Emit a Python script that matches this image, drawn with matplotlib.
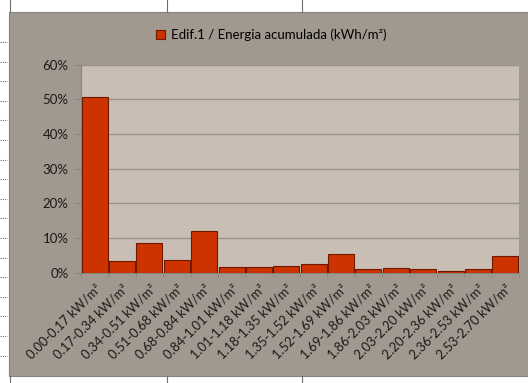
import numpy as np
import matplotlib.pyplot as plt
from matplotlib.patches import Rectangle
from matplotlib.lines import Line2D
from matplotlib.ticker import PercentFormatter

plt.rcParams["font.family"] = ["Lato", "DejaVu Sans"]

bins = ["0.00-0.17", "0.17-0.34", "0.34-0.51", "0.51-0.68", "0.68-0.84",
        "0.84-1.01", "1.01-1.18", "1.18-1.35", "1.35-1.52", "1.52-1.69",
        "1.69-1.86", "1.86-2.03", "2.03-2.20", "2.20-2.36", "2.36-2.53",
        "2.53-2.70"]
share = [50.5, 3.2, 8.6, 3.6, 12.1, 1.6, 1.6, 1.9, 2.5, 5.4,
         1.0, 1.25, 1.0, 0.4, 1.0, 4.8]
labels = [f"{b} kW/m\u00b2" for b in bins]
series_name = "Edif.1 / Energia acumulada (kWh/m\u00b2)"

W, H = 528, 383
fig = plt.figure(figsize=(W / 100, H / 100), dpi=100)
fig.patch.set_facecolor("white")

# spreadsheet cell lines around the chart object
for x in (10, 167, 302):
    fig.add_artist(Line2D([x / W, x / W], [1, 1 - 12 / H], color="#6e6e6e", lw=0.8))
    fig.add_artist(Line2D([x / W, x / W], [0, 7 / H], color="#6e6e6e", lw=0.8))
for y in np.arange(42, 375, 19.6):
    fig.add_artist(Line2D([0, 7 / W], [1 - y / H, 1 - y / H], color="#6e6e6e",
                          lw=0.8, ls=(0, (1, 1))))

# chart area background, kept behind the axes
fig.add_artist(Rectangle((9 / W, 7.5 / H), 1 - 9 / W, 1 - 19.5 / H,
                         facecolor="#a1988f", edgecolor="#8a847e", lw=0.8,
                         zorder=-10))

ax = fig.add_axes([81 / W, 110.5 / H, 438 / W, 208 / H])
ax.set_facecolor("#c8beb4")
x = np.arange(len(share))
bars = ax.bar(x, share, width=0.95, color="#cc3300", edgecolor="#6e1800",
              linewidth=0.8, label=series_name, zorder=3)

ax.set_xlim(-0.5, len(share) - 0.5)
ax.set_ylim(0, 60)
ax.set_yticks(np.arange(0, 61, 10))
ax.yaxis.set_major_formatter(PercentFormatter(decimals=0))
ax.grid(axis="y", color="#9a938d", lw=1.0, zorder=0)
ax.set_xticks(x)
ax.set_xticklabels(labels, rotation=45, ha="right", va="top",
                   rotation_mode="anchor", fontsize=9.3, color="#1a1a1a")
ax.set_xticks(np.arange(-0.5, len(share)), minor=True)
ax.tick_params(axis="x", which="major", length=0, pad=7)
ax.tick_params(axis="x", which="minor", length=3, color="#8a8580")
ax.tick_params(axis="y", length=4, color="#8a8580", labelsize=9.5,
               labelcolor="#1a1a1a", pad=5)
for side in ("top", "right"):
    ax.spines[side].set_visible(False)
ax.spines["left"].set_color("#8a8580")
ax.spines["bottom"].set_color("#8a8580")

fig.legend(handles=[bars], loc="center", bbox_to_anchor=(271 / W, 1 - 35 / H),
           frameon=False, fontsize=9.5, handlelength=0.7, handleheight=0.7,
           handletextpad=0.4)

fig.savefig("out.png", dpi=100)
